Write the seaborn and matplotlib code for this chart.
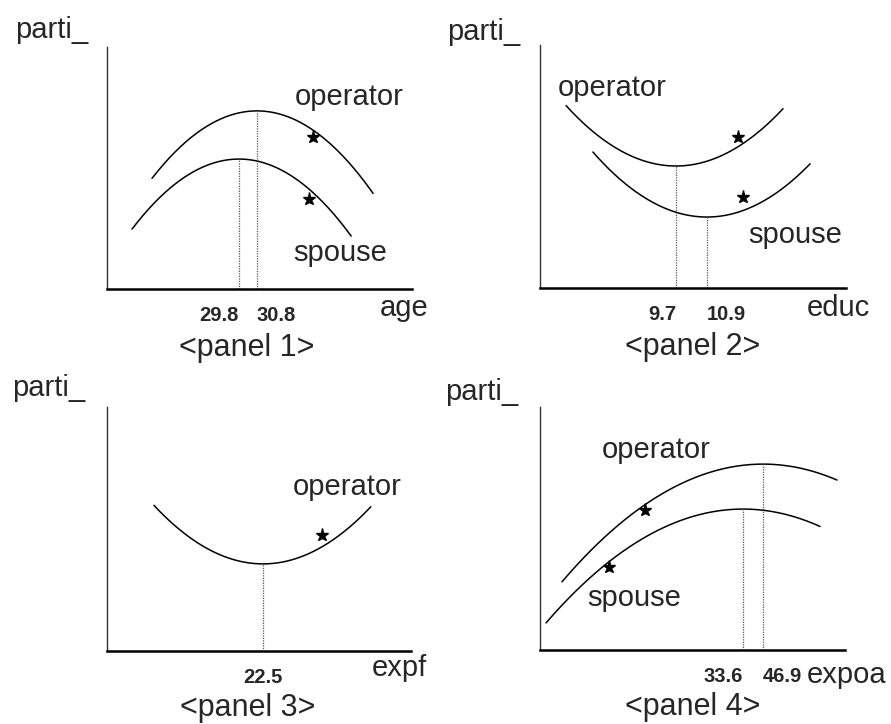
import numpy as np
import pandas as pd
import matplotlib
matplotlib.use("Agg")
import matplotlib.pyplot as plt
from matplotlib.transforms import IdentityTransform
from matplotlib.lines import Line2D
import seaborn as sns

# ---- curve parameters (quadratic partial effects) ----
# panel 1: age
age_vertex = {"operator": 30.8, "spouse": 29.8}
age_peak = {"operator": 0.736, "spouse": 0.537}
age_curv = {"operator": -0.0082, "spouse": -0.0082}
age_span = {"operator": (24.97, 37.25), "spouse": (23.86, 36.03)}
age_xlim = (22.47, 39.41)

# panel 2: educ
educ_vertex = {"operator": 9.7, "spouse": 10.9}
educ_peak = {"operator": 0.502, "spouse": 0.292}
educ_curv = {"operator": 0.0137, "spouse": 0.0137}
educ_span = {"operator": (5.44, 13.85), "spouse": (6.48, 14.90)}
educ_xlim = (4.43, 16.29)

# panel 3: expf
expf_vertex = {"operator": 22.5}
expf_peak = {"operator": 0.357}
expf_curv = {"operator": 0.00092}
expf_span = {"operator": (6.35, 38.45)}
expf_xlim = (-0.6, 44.4)

# panel 4: expoa
expoa_vertex = {"operator": 46.9, "spouse": 33.6}
expoa_peak = {"operator": 0.765, "spouse": 0.580}
expoa_curv = {"operator": -2.71e-5, "spouse": -2.73e-5}
expoa_span = {"operator": (-86.8, 96.1), "spouse": (-97.4, 84.8)}
expoa_xlim = (-101.4, 101.4)

x_names = ["age", "educ", "expf", "expoa"]
panel_titles = ["<panel 1>", "<panel 2>", "<panel 3>", "<panel 4>"]
y_name = "parti_"

panels = [
    (age_vertex, age_peak, age_curv, age_span, age_xlim),
    (educ_vertex, educ_peak, educ_curv, educ_span, educ_xlim),
    (expf_vertex, expf_peak, expf_curv, expf_span, expf_xlim),
    (expoa_vertex, expoa_peak, expoa_curv, expoa_span, expoa_xlim),
]

sns.set_theme(style="white")
plt.rcParams["font.family"] = ["Liberation Sans", "DejaVu Sans"]

W, H = 891, 724
fig = plt.figure(figsize=(W / 100, H / 100), dpi=100)
fig.patch.set_facecolor("white")

# axes boxes in pixels: left, top, right, bottom
boxes = [(107, 47, 412, 289), (540, 45, 846, 288),
         (107, 407, 411, 651), (540, 407, 845, 650)]


def px(x, y):
    return x, H - y


def ptext(x, y, s, **kw):
    X, Y = px(x, y)
    fig.text(X, Y, s, transform=IdentityTransform(), **kw)


def star(x, y):
    X, Y = px(x, y)
    fig.add_artist(Line2D([X], [Y], marker="*", markersize=9.5, color="black",
                          linestyle="none", transform=IdentityTransform()))


axes = []
for (l, t, r, b), (vx, pk, cv, sp, xl) in zip(boxes, panels):
    ax = fig.add_axes([l / W, 1 - b / H, (r - l) / W, (b - t) / H])
    ax.set_facecolor("white")
    ax.set_xlim(*xl)
    ax.set_ylim(0, 1)
    for who in vx:
        xs = np.linspace(sp[who][0], sp[who][1], 200)
        df = pd.DataFrame({"x": xs, "y": pk[who] + cv[who] * (xs - vx[who]) ** 2})
        sns.lineplot(data=df, x="x", y="y", ax=ax, color="black", lw=1.1,
                     estimator=None, sort=False)
        ax.plot([vx[who], vx[who]], [0, pk[who]], color="0.35", lw=0.9,
                ls=(0, (1, 1)))
    ticks = sorted(vx.values())
    ax.set_xticks(ticks)
    ax.set_xticklabels([f"{v:.1f}" for v in ticks], fontsize=14.5,
                       fontweight="bold")
    labs = ax.get_xticklabels()
    if len(labs) == 2:
        labs[0].set_ha("right")
        labs[1].set_ha("left")
    ax.set_yticks([])
    ax.tick_params(axis="x", length=0, pad=12)
    ax.set_xlabel("")
    ax.set_ylabel("")
    for s in ("top", "right"):
        ax.spines[s].set_visible(False)
    ax.spines["left"].set_color("0.2")
    ax.spines["left"].set_linewidth(1.0)
    ax.spines["bottom"].set_color("black")
    ax.spines["bottom"].set_linewidth(1.8)
    axes.append(ax)

FS = 21
# y-axis names
for (x, y) in [(15, 30), (447, 32), (12, 388), (445, 392)]:
    ptext(x, y, y_name, fontsize=FS, ha="left", va="center")
# x-axis names
for (x, y), s in zip([(380, 308), (807, 308), (372, 668), (807, 675)], x_names):
    ptext(x, y, s, fontsize=FS, ha="left", va="center")
# panel captions
for (x, y), s in zip([(247, 348), (693, 347), (248, 708), (693, 707)], panel_titles):
    ptext(x, y, s, fontsize=22, ha="center", va="center")

# curve labels
for (x, y, s) in [(295, 97, "operator"), (293, 253, "spouse"),
                  (558, 88, "operator"), (748, 235, "spouse"),
                  (293, 487, "operator"),
                  (602, 450, "operator"), (587, 598, "spouse")]:
    ptext(x, y, s, fontsize=FS, ha="left", va="center")

# significance stars
for (x, y) in [(313, 137), (309, 199), (738, 137), (743, 197),
               (322, 535), (645, 510), (609, 567)]:
    star(x, y)

fig.savefig("out.png", dpi=100, facecolor="white")
